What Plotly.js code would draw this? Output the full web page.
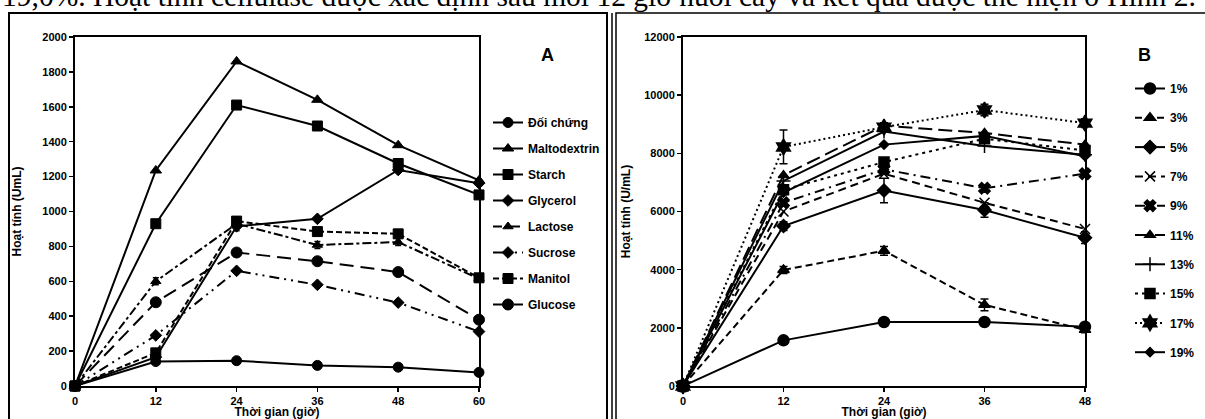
<!DOCTYPE html>
<html>
<head>
<meta charset="utf-8">
<script src="https://cdn.plot.ly/plotly-3.0.1.min.js"></script>
<style>html,body{margin:0;padding:0;background:#fff;}#chart{width:1205px;height:419px;}</style>
</head>
<body>
<div id="chart"></div>
<script>
// ---- Panel A data ----
const hoursA = [0, 12, 24, 36, 48, 60];
const namesA = ["Đối chứng", "Maltodextrin", "Starch", "Glycerol", "Lactose", "Sucrose", "Manitol", "Glucose"];
const doiChung    = [0, 140, 145, 118, 108, 78];
const maltodextrin = [0, 1235, 1860, 1640, 1380, 1178];
const starch      = [0, 930, 1610, 1490, 1275, 1095];
const glycerol    = [0, 165, 915, 958, 1238, 1162];
const lactose     = [0, 600, 930, 808, 825, 615];
const sucrose     = [0, 290, 660, 580, 478, 312];
const manitol     = [0, 190, 945, 885, 872, 620];
const glucose     = [0, 480, 765, 715, 653, 380];
const valuesA = [doiChung, maltodextrin, starch, glycerol, lactose, sucrose, manitol, glucose];
const errLactose = [0, 20, 40, 20, 20, 20];

// ---- Panel B data ----
const hoursB = [0, 12, 24, 36, 48];
const namesB = ["1%", "3%", "5%", "7%", "9%", "11%", "13%", "15%", "17%", "19%"];
const c1  = [0, 1570, 2200, 2200, 2040];
const c3  = [0, 3990, 4650, 2790, 1930];
const c5  = [0, 5500, 6720, 6050, 5100];
const c7  = [0, 6000, 7300, 6300, 5400];
const c9  = [0, 6300, 7450, 6800, 7300];
const c11 = [0, 7250, 8950, 8700, 8300];
const c13 = [0, 7050, 8750, 8250, 7950];
const c15 = [0, 6750, 7700, 8500, 8100];
const c17 = [0, 8220, 8900, 9490, 9040];
const c19 = [0, 6650, 8300, 8600, 7900];
const valuesB = [c1, c3, c5, c7, c9, c11, c13, c15, c17, c19];
const errB = {
  "5%":  [0, 150, 420, 250, 200],
  "17%": [0, 580, 150, 200, 150],
  "3%":  [0, 120, 150, 200, 100]
};

const stylesA = [
  {dash: "solid", symbol: "circle", size: 10},
  {dash: "solid", symbol: "triangle-up", size: 10},
  {dash: "solid", symbol: "square", size: 10},
  {dash: "solid", symbol: "diamond", size: 9},
  {dash: "dashdot", symbol: "triangle-up", size: 9},
  {dash: "10px,5px,2px,5px,2px,5px", symbol: "diamond", size: 9},
  {dash: "6px,3px", symbol: "square", size: 10},
  {dash: "14px,7px", symbol: "circle", size: 11}
];
const stylesB = [
  {dash: "solid", symbol: "circle", size: 11},
  {dash: "7px,4px", symbol: "triangle-up", size: 10},
  {dash: "solid", symbol: "diamond", size: 10},
  {dash: "8px,5px", symbol: "x-thin-open", size: 10},
  {dash: "10px,5px,2px,5px", symbol: "x", size: 10},
  {dash: "14px,6px", symbol: "triangle-up", size: 9},
  {dash: "solid", symbol: "cross-thin-open", size: 10},
  {dash: "3px,4px", symbol: "square", size: 10},
  {dash: "2px,3px", symbol: "hexagram", size: 12},
  {dash: "solid", symbol: "diamond", size: 7}
];

const traces = [];
namesA.forEach((n, i) => {
  const t = {
    x: hoursA, y: valuesA[i], name: n, type: "scatter", mode: "lines+markers",
    xaxis: "x", yaxis: "y", legend: "legend", legendgroup: "a" + i, cliponaxis: false,
    line: {color: "#000", width: 2, dash: stylesA[i].dash},
    marker: {color: "#000", symbol: stylesA[i].symbol, size: stylesA[i].size, line: {color: "#000", width: 1}}
  };
  if (n === "Lactose") t.error_y = {type: "data", array: errLactose, visible: true, color: "#000", thickness: 1.5, width: 3};
  traces.push(t);
});
namesB.forEach((n, i) => {
  const t = {
    x: hoursB, y: valuesB[i], name: n, type: "scatter", mode: "lines+markers",
    xaxis: "x2", yaxis: "y2", legend: "legend2", legendgroup: "b" + i, cliponaxis: false,
    line: {color: "#000", width: 2, dash: stylesB[i].dash},
    marker: {color: "#000", symbol: stylesB[i].symbol, size: stylesB[i].size, line: {color: "#000", width: 1.5}}
  };
  if (errB[n]) t.error_y = {type: "data", array: errB[n], visible: true, color: "#000", thickness: 1.5, width: 4};
  traces.push(t);
});

const W = 1205, H = 419;
const px = v => v / W, py = v => (H - v) / H;
const tickFont = {family: "Liberation Sans, Arial, sans-serif", size: 11, color: "#000", weight: "bold"};
const titleFont = {family: "Liberation Sans, Arial, sans-serif", size: 12, color: "#000", weight: "bold"};
const axisCommon = {
  showline: true, linecolor: "#000", linewidth: 2, mirror: true, showgrid: false, zeroline: false,
  ticks: "outside", ticklen: 4, tickwidth: 1.5, tickcolor: "#000", tickfont: tickFont, tickformat: "d"
};

const layout = {
  width: W, height: H, margin: {l: 0, r: 0, t: 0, b: 0},
  paper_bgcolor: "#fff", plot_bgcolor: "#fff", showlegend: true,
  xaxis: Object.assign({}, axisCommon, {domain: [px(75), px(479)], range: [0, 60], tickvals: hoursA, anchor: "y",
    title: {text: "Thời gian (giờ)", font: titleFont, standoff: 8}}),
  yaxis: Object.assign({}, axisCommon, {domain: [py(386), py(37)], range: [0, 2000], dtick: 200, anchor: "x",
    title: {text: "Hoạt tính (UmL)", font: titleFont, standoff: 18}}),
  xaxis2: Object.assign({}, axisCommon, {domain: [px(683), px(1085)], range: [0, 48], tickvals: hoursB, anchor: "y2",
    title: {text: "Thời gian (giờ)", font: titleFont, standoff: 8}}),
  yaxis2: Object.assign({}, axisCommon, {domain: [py(386), py(37)], range: [0, 12000], dtick: 2000, anchor: "x2",
    title: {text: "Hoạt tính (U/mL)", font: titleFont, standoff: 11}}),
  legend: {x: px(488), y: py(108), xanchor: "left", yanchor: "top", bgcolor: "rgba(0,0,0,0)",
    font: {family: "Liberation Sans, Arial, sans-serif", size: 12, color: "#000", weight: "bold"}, tracegroupgap: 7, itemwidth: 30},
  legend2: {x: px(1130), y: py(74), xanchor: "left", yanchor: "top", bgcolor: "rgba(0,0,0,0)",
    font: {family: "Liberation Sans, Arial, sans-serif", size: 12, color: "#000", weight: "bold"}, tracegroupgap: 10.3, itemwidth: 30},
  annotations: [
    {text: "A", xref: "paper", yref: "paper", x: px(547), y: py(43), showarrow: false,
      font: {family: "Liberation Sans, Arial, sans-serif", size: 18, color: "#000", weight: "bold"}},
    {text: "B", xref: "paper", yref: "paper", x: px(1153), y: py(43), showarrow: false,
      font: {family: "Liberation Sans, Arial, sans-serif", size: 18, color: "#000", weight: "bold"}},
    {text: "19,0%. Hoạt tính cellulase được xác định sau mỗi 12 giờ nuôi cấy và kết quả được thể hiện ở Hình 2.",
      xref: "paper", yref: "paper", x: 0, y: py(14), xanchor: "left", yanchor: "bottom", showarrow: false,
      font: {family: "Liberation Serif, Times New Roman, serif", size: 29.5, color: "#000"}}
  ],
  shapes: [
    {type: "rect", xref: "paper", yref: "paper", x0: px(9), x1: px(607), y0: -0.05, y1: py(13), line: {color: "#000", width: 2}},
    {type: "rect", xref: "paper", yref: "paper", x0: px(616), x1: 1.02, y0: -0.05, y1: py(13), line: {color: "#000", width: 1.5}},
    {type: "line", xref: "paper", yref: "paper", x0: px(612), x1: px(612), y0: -0.05, y1: py(13), line: {color: "#000", width: 1.5}}
  ]
};

Plotly.newPlot("chart", traces, layout, {staticPlot: true, displayModeBar: false});
</script>
</body>
</html>
